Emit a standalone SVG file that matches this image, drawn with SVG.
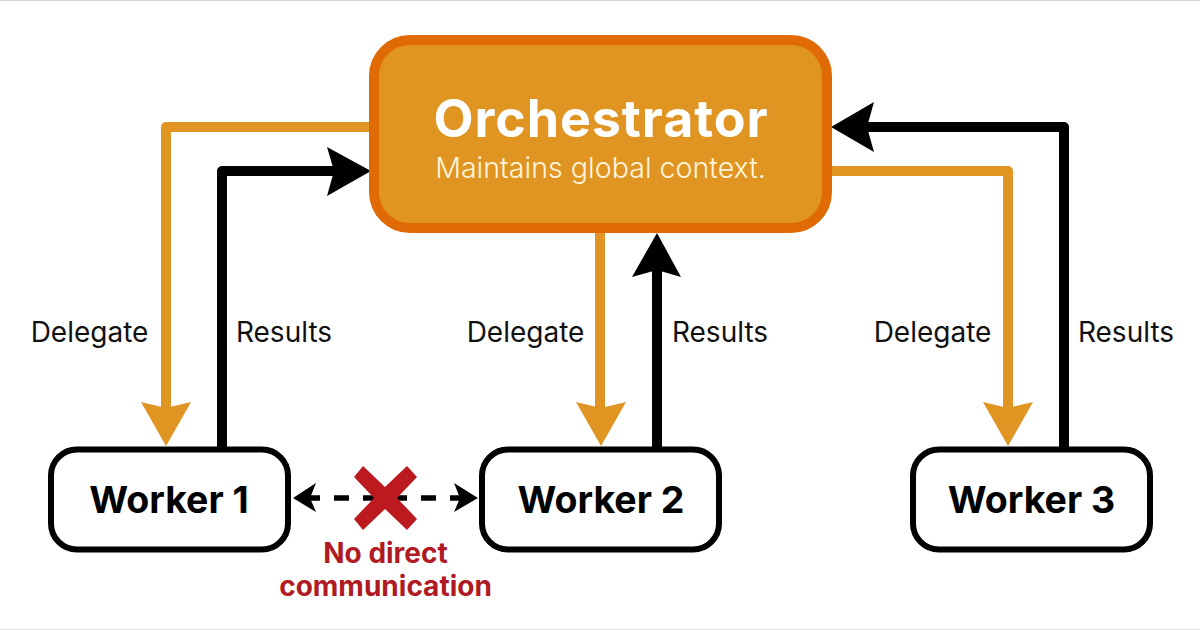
<svg xmlns="http://www.w3.org/2000/svg" width="1200" height="630" viewBox="0 0 1200 630">
<style>
text{font-family:Inter,Roboto,"Liberation Sans",sans-serif;text-anchor:middle}
.o{fill:none;stroke:#e09421;stroke-width:10;stroke-linejoin:round}
.b{fill:none;stroke:#000;stroke-width:10;stroke-linejoin:round}
.ah{fill:#e09421}.bh{fill:#000}
.w{fill:#fff;stroke:#000;stroke-width:6}
.wt{font-size:37.5px;font-weight:700;fill:#000}
.l{font-size:28px;fill:#111}
.r{font-size:28px;font-weight:700;fill:#b01a22}
</style>
<rect width="1200" height="630" fill="#fff"/>
<rect width="1200" height="1" fill="#d4d4d4"/>
<rect y="629" width="1200" height="1" fill="#e4e4e4"/>
<g id="connectors">
<path class="o" d="M372 127H166V410"/>
<path class="ah" d="M166 446L141 402L166 408L191 402Z"/>
<path class="b" d="M222 447V171H340"/>
<path class="bh" d="M371 171L327 147L334 171L327 196Z"/>
<path class="o" d="M600 232V410"/>
<path class="ah" d="M601 446L576 402L601 408L626 402Z"/>
<path class="b" d="M657 447V270"/>
<path class="bh" d="M657 233L632 277L657 270L681 277Z"/>
<path class="o" d="M829 171H1008V410"/>
<path class="ah" d="M1008 446L983 402L1008 408L1033 402Z"/>
<path class="b" d="M1064 447V127H860"/>
<path class="bh" d="M831 127L874 102L867 127L874 152Z"/>
<path d="M305 498H466" fill="none" stroke="#000" stroke-width="5.5" stroke-dasharray="15 14"/>
<path class="bh" d="M293 498L316 483L310 498L316 512Z"/>
<path class="bh" d="M478 498L454 483L460 498L454 512Z"/>
</g>
<g id="orchestrator">
<rect x="374" y="40" width="453" height="188" rx="36" fill="#e09421" stroke="#e06b06" stroke-width="10"/>
<text x="601" y="136.500" font-size="52" font-weight="700" letter-spacing="0.9" fill="#fff">Orchestrator</text>
<text x="600.500" y="178" font-size="28.600" font-weight="300" fill="#fff4dd">Maintains global context.</text>
</g>
<g id="worker1"><rect class="w" x="51" y="449.500" width="237" height="100" rx="26"/><text class="wt" x="169" y="513">Worker 1</text></g>
<g id="worker2"><rect class="w" x="482" y="449.500" width="237" height="100" rx="26"/><text class="wt" x="601" y="513">Worker 2</text></g>
<g id="worker3"><rect class="w" x="913" y="449.500" width="237" height="100" rx="26"/><text class="wt" x="1031.500" y="513">Worker 3</text></g>
<g id="labels">
<text class="l" x="89.500" y="342">Delegate</text>
<text class="l" x="284" y="342">Results</text>
<text class="l" x="525.500" y="342">Delegate</text>
<text class="l" x="720" y="342">Results</text>
<text class="l" x="932.500" y="342">Delegate</text>
<text class="l" x="1126" y="342">Results</text>
</g>
<g id="no-direct">
<path d="M363 466L385 487L407 466L417 477L397 498L417 519L407 530L385 509L363 530L354 519L374 498L354 477Z" fill="#bd1a20"/>
<text class="r" x="385.500" y="563">No direct</text>
<text class="r" x="385.500" y="596">communication</text>
</g>
</svg>
